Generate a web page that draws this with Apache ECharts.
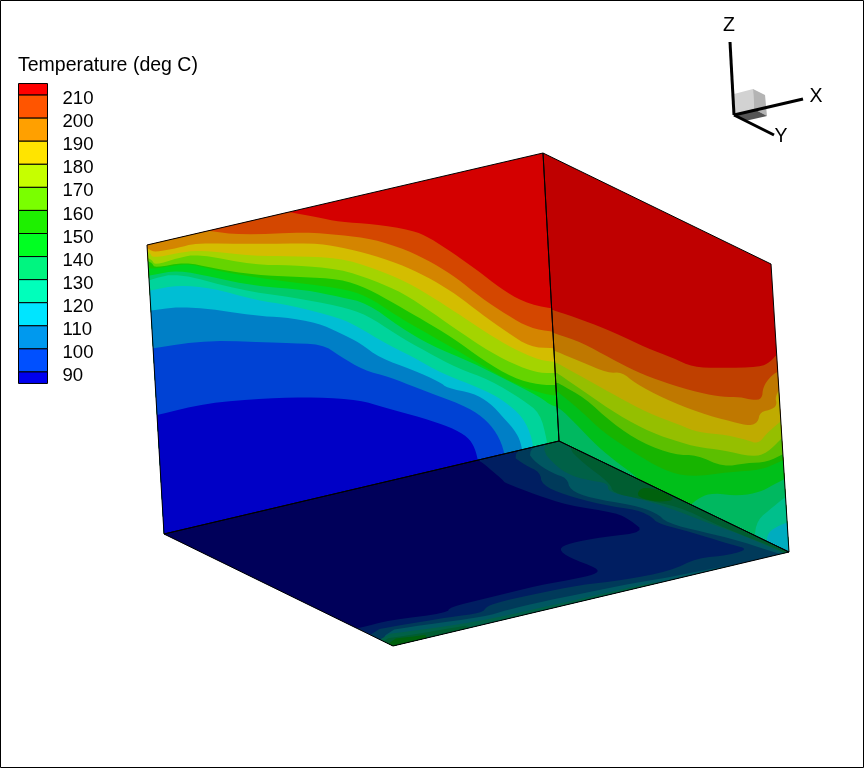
<!DOCTYPE html>
<html><head><meta charset="utf-8">
<style>html,body{margin:0;padding:0;background:#fff}#c{width:864px;height:768px}</style>
<script src="https://cdn.jsdelivr.net/npm/echarts@6/dist/echarts.min.js"></script>
</head><body><div id="c"></div>
<script>
// Contour levels and colour bands (hot to cold)
const legendLevels = [210,200,190,180,170,160,150,140,130,120,110,100,90];
const legendEdges = [215,210,200,190,180,170,160,150,140,130,120,110,100,90,85];
const bandColors = [[255,0,0],[255,85,0],[255,160,0],[255,228,0],[198,255,0],[122,255,0],[30,240,0],[0,255,34],[0,245,128],[0,255,187],[0,229,255],[0,153,238],[0,80,255],[0,0,238]];

// Face corners
const leftWall = [[147,245],[543,153],[559,441],[164,534]];
const rightWall = [[543,153],[771,264],[789,552],[559,441]];
const floorFace = [[164,534],[559,441],[789,552],[393,646]];

// Left wall contour lines: [colour band below the line, polyline]
const leftContours = [
 [1,[[289,212],[317,217],[340,222],[373,224],[412,230],[430,238],[453,253],[477,270],[500,288],[523,302],[552,309],[575,310]]],
 [2,[[210,231],[240,235],[307,232],[340,235],[373,239],[407,250],[433,263],[457,278],[480,297],[507,315],[530,328],[553,332],[575,333]]],
 [3,[[146,247],[150,250],[155,252],[178,248],[195,243],[255,244],[313,243],[340,247],[373,255],[407,267],[433,280],[457,295],[480,313],[507,332],[530,347],[553,348],[575,350]]],
 [4,[[146,251],[150,253],[153,258],[178,253],[198,250],[255,256],[290,256],[340,258],[373,268],[407,282],[437,300],[463,317],[493,337],[520,352],[540,360],[555,362],[575,363]]],
 [5,[[146,257],[152,260],[155,265],[178,258],[198,254],[255,265],[290,265],[340,269],[373,280],[403,293],[433,313],[460,332],[490,352],[520,367],[540,373],[557,373],[575,374]]],
 [6,[[146,260],[152,263],[155,268],[185,262],[212,268],[255,275],[300,277],[340,279],[367,288],[397,305],[423,320],[453,338],[483,360],[513,378],[540,385],[557,385],[575,386]]],
 [7,[[146,267],[152,269],[178,265],[190,264],[223,272],[273,280],[340,288],[367,296],[397,316],[423,331],[453,348],[483,366],[513,383],[540,393],[558,396],[575,397]]],
 [8,[[146,276],[152,275],[178,270],[212,277],[255,286],[307,290],[340,297],[367,303],[400,327],[430,345],[473,363],[507,380],[540,397],[553,407],[575,409]]],
 [9,[[146,282],[152,279],[178,273],[240,290],[290,297],[340,306],[367,315],[397,335],[427,352],[457,368],[490,380],[523,400],[540,413],[547,440],[549,460]]],
 [10,[[146,292],[152,290],[178,285],[212,288],[255,300],[290,305],[340,318],[360,328],[383,342],[413,357],[443,374],[480,388],[503,400],[523,417],[533,440],[535,470]]],
 [11,[[146,312],[152,310],[190,306],[257,316],[283,317],[318,323],[340,333],[360,343],[380,358],[413,370],[440,382],[447,388],[473,393],[490,403],[503,417],[517,433],[522,447],[525,470]]],
 [12,[[146,350],[153,348],[210,340],[283,343],[322,344],[340,356],[363,370],[390,377],[417,388],[463,405],[483,417],[497,433],[505,453],[507,480]]],
 [13,[[146,417],[157,415],[207,403],[267,398],[317,397],[360,400],[383,407],[423,418],[450,427],[468,437],[475,448],[479,465],[480,480]]]
];

// Right wall contour lines that start on the wall's left edge
const rightContours = [
 [1,[[553,310],[583,320],[613,332],[647,348],[673,358],[693,367],[720,368],[760,367],[770,362],[778,353],[800,345]]],
 [2,[[554,333],[583,343],[610,358],[637,372],[663,382],[700,393],[723,397],[740,397],[753,400],[762,399],[763,387],[770,377],[778,371],[800,362]]],
 [3,[[555,351],[582,362],[608,373],[622,372],[635,383],[663,398],[700,413],[733,422],[750,426],[758,422],[760,412],[773,409],[777,404],[775,397],[782,385],[800,375]]],
 [4,[[557,363],[588,380],[618,397],[648,413],[680,425],[697,432],[727,435],[747,440],[758,444],[767,433],[782,420],[800,408]]],
 [5,[[557,373],[585,392],[618,415],[652,433],[680,442],[697,447],[723,450],[753,457],[767,453],[785,435],[800,425]]],
 [6,[[558,383],[585,398],[612,423],[642,443],[675,455],[697,455],[723,467],[747,463],[767,462],[785,453],[800,448]]],
 [7,[[558,392],[580,410],[603,432],[633,452],[663,470],[690,477],[730,472],[760,470],[777,463],[800,452]]],
 [8,[[550,405],[560,408],[575,423],[598,447],[618,463],[637,477],[650,492]]]
];
// Right wall patches that rise from the wall's bottom edge
const rightPatches = [
 [8,[[688,507],[700,497],[713,493],[740,496],[760,492],[773,485],[790,476],[800,470]]],
 [9,[[754,540],[757,520],[773,507],[785,497],[800,490]]],
 [10,[[766,545],[768,532],[780,525],[792,521],[800,518]]]
];

// Floor contour regions, closed polygons painted in order over the base band
const floorBase = 12;
const floorRegions = [
 [11,[[510,454],[525,465],[540,472],[542,485],[565,495],[603,505],[638,510],[652,517],[657,523],[683,530],[710,538],[733,545],[748,549],[730,555],[697,558],[670,571],[623,580],[580,585],[540,593],[503,601],[487,606],[482,613],[450,617],[407,624],[363,632],[350,700],[850,700],[850,500],[560,420]]],
 [10,[[527,451],[535,462],[552,473],[567,478],[570,490],[590,498],[633,505],[657,513],[667,523],[703,532],[737,540],[767,550],[800,560],[820,500],[560,425]]],
 [9,[[540,448],[557,467],[570,475],[587,480],[608,483],[608,492],[637,498],[670,508],[700,520],[737,533],[770,547],[800,560],[820,500],[560,425]]],
 [8,[[567,447],[583,463],[610,483],[613,493],[637,498],[680,507],[713,523],[747,537],[773,547],[800,560],[820,500],[580,425]]],
 [7,[[637,493],[643,487],[660,490],[677,500],[657,502],[640,498]]],
 [10,[[377,632],[423,625],[483,617],[507,610],[540,602],[623,585],[670,577],[700,571],[760,560],[800,560],[800,700],[377,700]]],
 [9,[[372,636],[420,630],[480,621],[540,608],[623,589],[670,579],[700,600],[372,700]]],
 [8,[[375,640],[410,635],[440,630],[480,623],[480,700],[375,700]]],
 [7,[[383,640],[417,636],[430,634],[430,700],[383,700]]],
 [13,[[478,460],[483,463],[503,480],[505,483],[537,495],[567,505],[617,513],[630,520],[645,532],[603,537],[570,543],[558,549],[570,558],[597,568],[598,573],[580,578],[540,585],[487,598],[450,607],[447,613],[390,620],[360,628],[353,628],[340,632],[100,540],[100,480],[470,440]]]
];

// Face shading applied to the band colours
const leftShade = 0.83, rightShade = 0.75, floorShade = 0.38;

// Orientation triad
const triadAxes = [[[730,42],[734,115]],[[734,115],[803,99]],[[734,115],[774,135]]];
const triadNames = [['Z',729,26],['X',816,97],['Y',781,137]];
const triadCube = [
 [[[734,94],[753,89],[754,109],[734,115]],'#d2d2d2'],
 [[[753,89],[765,95],[767,116],[754,109]],'#b4b4b4'],
 [[[734,115],[754,109],[767,116],[745,121]],'#555555']
];
const frame = [[0.5,0.5],[863.5,0.5],[863.5,767.5],[0.5,767.5],[0.5,0.5]];

function shade(i,f){const c=bandColors[i];return 'rgb('+c.map(v=>Math.round(v*f)).join(',')+')';}
function clipTo(poly,quad){
  const cx=quad.reduce((s,p)=>s+p[0],0)/4, cy=quad.reduce((s,p)=>s+p[1],0)/4;
  let out=poly;
  for(let i=0;i<4;i++){
    const a=quad[i],b=quad[(i+1)%4];
    const side=p=>(b[0]-a[0])*(p[1]-a[1])-(b[1]-a[1])*(p[0]-a[0]);
    const sg=Math.sign(side([cx,cy]));
    const input=out;out=[];
    for(let j=0;j<input.length;j++){
      const p=input[j],q=input[(j+1)%input.length];
      const sp=side(p)*sg,sq=side(q)*sg;
      if(sp>=0)out.push(p);
      if(sp*sq<0){const t=sp/(sp-sq);out.push([p[0]+(q[0]-p[0])*t,p[1]+(q[1]-p[1])*t]);}
    }
    if(!out.length)break;
  }
  return out;
}
// Corner rounding, the same job as a line series' smooth option
function round(line,closed){
  let pts=line;
  for(let k=0;k<2;k++){
    const o=[];const n=pts.length;
    if(!closed)o.push(pts[0]);
    for(let i=0;i<(closed?n:n-1);i++){
      const p=pts[i],q=pts[(i+1)%n];
      o.push([p[0]*.75+q[0]*.25,p[1]*.75+q[1]*.25],[p[0]*.25+q[0]*.75,p[1]*.25+q[1]*.75]);
    }
    if(!closed)o.push(pts[n-1]);
    pts=o;
  }
  return pts;
}
function belowLine(line,reachLeft){
  const r=round(line,false),f=r[0],l=r[r.length-1];
  return reachLeft?[[0,f[1]]].concat(r,[[l[0],900],[0,900]]):r.concat([[l[0],900],[f[0],900]]);
}
const shapes=[];
function addFill(p,fill){shapes.push({pts:p,fill:fill});}
addFill(leftWall,shade(0,leftShade));
leftContours.forEach(c=>addFill(clipTo(belowLine(c[1],true),leftWall),shade(c[0],leftShade)));
addFill(rightWall,shade(0,rightShade));
rightContours.forEach(c=>addFill(clipTo(belowLine(c[1],true),rightWall),shade(c[0],rightShade)));
rightPatches.forEach(c=>addFill(clipTo(belowLine(c[1],false),rightWall),shade(c[0],rightShade)));
addFill(floorFace,shade(floorBase,floorShade));
floorRegions.forEach(c=>addFill(clipTo(round(c[1],true),floorFace),shade(c[0],floorShade)));
[leftWall,rightWall,floorFace].forEach(q=>shapes.push({pts:q.concat([q[0]]),stroke:'#000',lw:1}));
const triadShapes=[];
triadCube.forEach(c=>triadShapes.push({pts:c[0],fill:c[1]}));
triadAxes.forEach(a=>triadShapes.push({pts:a,stroke:'#000',lw:3}));

function renderShape(list){
  return function(params,api){
    const s=list[api.value(0)];
    const pts=s.pts.map(p=>api.coord(p));
    if(s.fill) return {type:'polygon',shape:{points:pts},style:{fill:s.fill,stroke:null},silent:true};
    return {type:'polyline',shape:{points:pts},style:{fill:null,stroke:s.stroke,lineWidth:s.lw,lineJoin:'miter'},silent:true};
  };
}
const legendCells=bandColors.map((c,i)=>[i]);
const option={
  animation:false,
  backgroundColor:'#fff',
  title:{text:'Temperature (deg C)',left:18,top:56,padding:0,textStyle:{fontFamily:'Liberation Sans',fontSize:19.5,fontWeight:'normal',color:'#000'}},
  grid:[{left:0,top:0,width:864,height:768},{left:18.5,top:72,width:29,height:323}],
  xAxis:[{type:'value',min:0,max:864,show:false,gridIndex:0},{type:'value',min:0,max:1,show:false,gridIndex:1}],
  yAxis:[{type:'value',min:0,max:768,inverse:true,show:false,gridIndex:0},
    {type:'value',min:80,max:220,interval:10,gridIndex:1,position:'right',splitLine:{show:false},axisLine:{show:false},axisTick:{show:false},
     axisLabel:{margin:15,color:'#000',fontFamily:'Liberation Sans',fontSize:18.6,verticalAlign:'top',lineHeight:8,
       formatter:v=>legendLevels.indexOf(v)>=0?String(v):''}}],
  series:[
   {type:'custom',coordinateSystem:'cartesian2d',xAxisIndex:0,yAxisIndex:0,clip:false,data:shapes.map((s,i)=>[i]),renderItem:renderShape(shapes),encode:{x:0,y:0}},
   {type:'custom',coordinateSystem:'cartesian2d',xAxisIndex:0,yAxisIndex:0,clip:false,data:triadShapes.map((s,i)=>[i]),renderItem:renderShape(triadShapes),encode:{x:0,y:0}},
   {type:'custom',coordinateSystem:'cartesian2d',xAxisIndex:0,yAxisIndex:0,clip:false,data:triadNames.map((s,i)=>[i]),encode:{x:0,y:0},
    renderItem:function(params,api){const n=triadNames[api.value(0)];const p=api.coord([n[1],n[2]]);
      return {type:'text',x:p[0],y:p[1],style:{text:n[0],fill:'#000',font:'19.5px "Liberation Sans"',textAlign:'center',textVerticalAlign:'middle'},silent:true};}},
   {type:'custom',coordinateSystem:'cartesian2d',xAxisIndex:1,yAxisIndex:1,clip:false,data:legendCells,encode:{y:0},
    renderItem:function(params,api){const i=api.value(0);
      const a=api.coord([0,legendEdges[i]]),b=api.coord([1,legendEdges[i+1]]);
      return {type:'rect',shape:{x:a[0],y:a[1],width:b[0]-a[0],height:b[1]-a[1]},style:{fill:shade(i,1),stroke:'#000',lineWidth:1},silent:true};}},
   {type:'custom',coordinateSystem:'cartesian2d',xAxisIndex:0,yAxisIndex:0,clip:false,data:[[0]],encode:{x:0,y:0},
    renderItem:function(params,api){return {type:'polyline',shape:{points:frame.map(p=>api.coord(p))},style:{fill:null,stroke:'#000',lineWidth:1},silent:true};}}
  ]
};
echarts.init(document.getElementById('c'),null,{renderer:'canvas'}).setOption(option);
</script></body></html>
